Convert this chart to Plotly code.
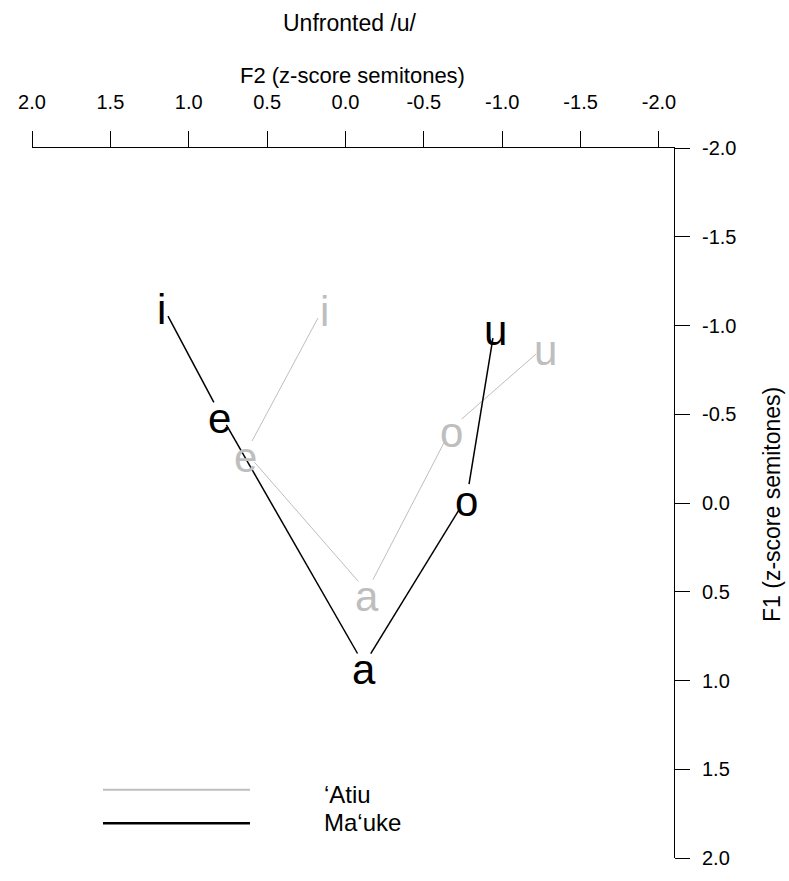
import math
import plotly.graph_objects as go

# Vowel means (z-scored semitones), plotted in order i-e-a-o-u
vowels = ["i", "e", "a", "o", "u"]
atiu_f2 = [0.137, 0.635, -0.137, -0.679, -1.279]
atiu_f1 = [-1.106, -0.285, 0.497, -0.425, -0.888]
mauke_f2 = [1.171, 0.801, -0.118, -0.775, -0.954]
mauke_f1 = [-1.117, -0.503, 0.911, -0.034, -1.000]

tick_vals = [2.0, 1.5, 1.0, 0.5, 0.0, -0.5, -1.0, -1.5, -2.0]
tick_text = ["2.0", "1.5", "1.0", "0.5", "0.0", "-0.5", "-1.0", "-1.5", "-2.0"]

series_names = ["\u2018Atiu", "Ma\u2018uke"]
series_colors = ["#BEBEBE", "#000000"]
series_widths = [1.0, 1.5]

# Page / plot-area geometry
W, H = 789, 881
M_L, M_R, M_T, M_B = 32, 115, 148, 17
PLOT_W = W - M_L - M_R
PLOT_H = H - M_T - M_B
X_RANGE = [2.0, -2.096]
Y_RANGE = [2.0, -2.0]
SX = PLOT_W / abs(X_RANGE[1] - X_RANGE[0])  # px per unit
SY = PLOT_H / abs(Y_RANGE[1] - Y_RANGE[0])
GAP = 13  # px left open around each vowel symbol (type="b" style)
FONT = "Arial, Liberation Sans, sans-serif"


def gapped_path(xs, ys, gap):
    """Segments between consecutive points, trimmed near each symbol."""
    px, py = [], []
    for k in range(len(xs) - 1):
        dx = (xs[k + 1] - xs[k]) * SX
        dy = (ys[k + 1] - ys[k]) * SY
        d = math.hypot(dx, dy)
        if d <= 2 * gap:
            continue
        f = gap / d
        px += [xs[k] + (xs[k + 1] - xs[k]) * f, xs[k + 1] - (xs[k + 1] - xs[k]) * f, None]
        py += [ys[k] + (ys[k + 1] - ys[k]) * f, ys[k + 1] - (ys[k + 1] - ys[k]) * f, None]
    return px, py


fig = go.Figure()
for name, xs, ys, col, lw in zip(series_names, [atiu_f2, mauke_f2], [atiu_f1, mauke_f1],
                                 series_colors, series_widths):
    lx, ly = gapped_path(xs, ys, GAP)
    fig.add_trace(go.Scatter(x=lx, y=ly, mode="lines", line=dict(color=col, width=lw),
                             showlegend=False, hoverinfo="skip", name=name))
    # vowel symbols, nudged so the glyph sits centred on its point
    for v, x, y in zip(vowels, xs, ys):
        fig.add_annotation(x=x, y=y, text=v, showarrow=False, xanchor="center",
                           yanchor="middle", yshift=-5,
                           font=dict(family=FONT, size=42, color=col))

# Legend key drawn in data coordinates, like an R legend()
leg_x0, leg_x1, leg_tx = 1.547, 0.609, 0.15
leg_line_y = [1.615, 1.804]
leg_text_y = [1.64, 1.80]
for name, col, lw, ly, ty in zip(series_names, series_colors, series_widths, leg_line_y, leg_text_y):
    fig.add_shape(type="line", x0=leg_x0, x1=leg_x1, y0=ly, y1=ly,
                  line=dict(color=col, width=lw + 1))
    fig.add_annotation(x=leg_tx, y=ty, text=name, showarrow=False, xanchor="left",
                       yanchor="middle", font=dict(family=FONT, size=24, color="#000000"))

fig.add_annotation(text="Unfronted /u/", xref="paper", yref="paper",
                   x=(350 - M_L) / PLOT_W, y=1 + (M_T - 22) / PLOT_H,
                   showarrow=False, xanchor="center", yanchor="middle",
                   font=dict(family=FONT, size=23, color="#000000"))
fig.add_annotation(text="F2 (z-score semitones)", xref="paper", yref="paper",
                   x=(352 - M_L) / PLOT_W, y=1 + (M_T - 75) / PLOT_H,
                   showarrow=False, xanchor="center", yanchor="middle",
                   font=dict(family=FONT, size=22, color="#000000"))
fig.add_annotation(text="F1 (z-score semitones)", xref="paper", yref="paper",
                   x=1 + (772 - (W - M_R)) / PLOT_W, y=1 - (507 - M_T) / PLOT_H,
                   showarrow=False, xanchor="center", yanchor="middle", textangle=-90,
                   font=dict(family=FONT, size=23, color="#000000"))

axis_common = dict(showgrid=False, zeroline=False, showline=True, linecolor="#000000",
                   linewidth=1, ticks="outside", tickcolor="#000000", tickwidth=1,
                   tickfont=dict(family=FONT, size=20, color="#000000"),
                   tickvals=tick_vals, ticktext=tick_text)
fig.update_xaxes(range=X_RANGE, side="top", ticklen=16, ticklabelstandoff=14, **axis_common)
fig.update_yaxes(range=Y_RANGE, side="right", ticklen=15, ticklabelstandoff=8, **axis_common)

fig.update_layout(width=W, height=H, margin=dict(l=M_L, r=M_R, t=M_T, b=M_B),
                  plot_bgcolor="white", paper_bgcolor="white", showlegend=False)

fig.write_html("out.html")
